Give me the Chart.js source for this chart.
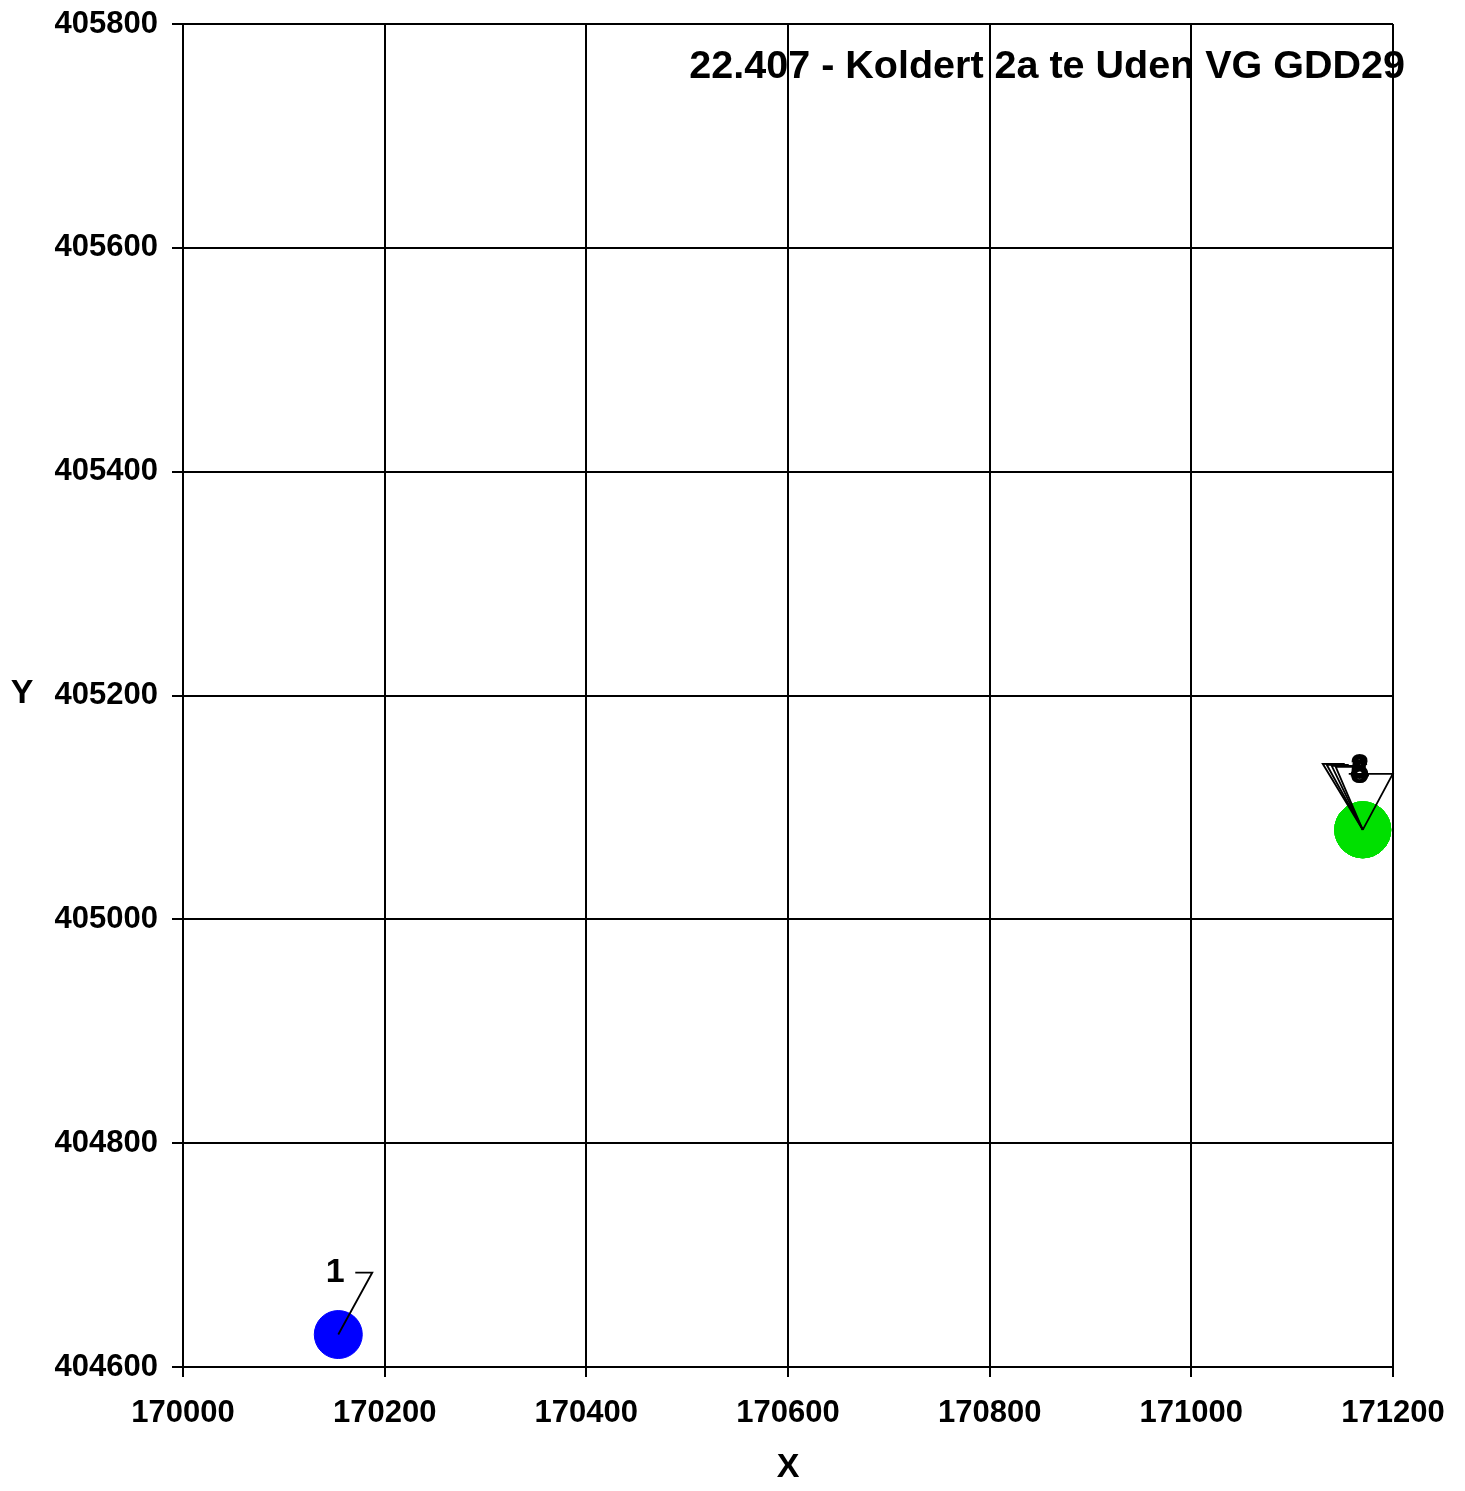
<!DOCTYPE html>
<html>
<head>
<meta charset="utf-8">
<script src="https://cdn.jsdelivr.net/npm/chart.js@4.4.1/dist/chart.umd.min.js"></script>
<style>
  html, body { margin: 0; padding: 0; background: #fff; }
  #wrap { width: 1465px; height: 1491px; position: relative; }
</style>
</head>
<body>
<div id="wrap"><canvas id="chart"></canvas></div>
<script>
// Gegevens
const titleText = '22.407 - Koldert 2a te Uden VG GDD29';
const blueX = [170154];
const blueY = [404629];
const blueLabels = ['1'];
const greenX = [171170, 171170, 171170, 171170, 171170];
const greenY = [405080, 405080, 405080, 405080, 405080];
const greenLabels = ['2', '3', '4', '5', '6'];
const xTicks = [170000, 170200, 170400, 170600, 170800, 171000, 171200];
const yTicks = [404600, 404800, 405000, 405200, 405400, 405600, 405800];

const FONT = "'Liberation Sans', Arial, sans-serif";

// Leader-lijnen: verschuiving (px) van het knikpunt t.o.v. het punt, lengte horizontaal stuk
const leaders = {
  blue: [{ dx: 34, dy: -62, h: -17, tx: -3, ty: -62 }],
  green: [
    { dx: -40, dy: -66, h: 22, tx: -3, ty: -62 },
    { dx: -36, dy: -65, h: 22, tx: -3, ty: -60 },
    { dx: -31, dy: -64, h: 22, tx: -3, ty: -58 },
    { dx: -27, dy: -63, h: 22, tx: -3, ty: -56 },
    { dx: 30, dy: -56, h: -44, tx: -3, ty: -56 }
  ]
};

function toPoints(xs, ys) {
  return xs.map((x, i) => ({ x: x, y: ys[i] }));
}

const labelPlugin = {
  id: 'labels',
  afterDatasetsDraw(chart) {
    const ctx = chart.ctx;
    ctx.save();
    const sets = [
      { meta: chart.getDatasetMeta(0), labels: blueLabels, lead: leaders.blue },
      { meta: chart.getDatasetMeta(1), labels: greenLabels, lead: leaders.green }
    ];
    // eerst lijnen
    ctx.strokeStyle = '#000';
    ctx.lineWidth = 1.8;
    sets.forEach(s => {
      s.meta.data.forEach((el, i) => {
        const l = s.lead[i];
        if (!l) return;
        ctx.beginPath();
        ctx.moveTo(el.x, el.y);
        ctx.lineTo(el.x + l.dx, el.y + l.dy);
        ctx.lineTo(el.x + l.dx + l.h, el.y + l.dy);
        ctx.stroke();
      });
    });
    // dan tekst
    ctx.fillStyle = '#000';
    ctx.font = 'bold 34px ' + FONT;
    ctx.textAlign = 'center';
    ctx.textBaseline = 'middle';
    sets.forEach(s => {
      s.meta.data.forEach((el, i) => {
        const l = s.lead[i];
        if (!l) return;
        ctx.fillText(s.labels[i], el.x + l.tx, el.y + l.ty);
      });
    });
    ctx.restore();
  },
  afterDraw(chart) {
    const ctx = chart.ctx;
    const a = chart.chartArea;
    ctx.save();
    ctx.fillStyle = '#000';
    ctx.font = 'bold 39.5px ' + FONT;
    ctx.textBaseline = 'middle';
    ctx.textAlign = 'right';
    ctx.fillText(titleText, a.right + 12, 67);
    ctx.font = 'bold 34px ' + FONT;
    ctx.textAlign = 'center';
    ctx.fillText('X', (a.left + a.right) / 2, 1468);
    ctx.fillText('Y', 22, 694);
    ctx.restore();
  }
};

new Chart(document.getElementById('chart'), {
  type: 'scatter',
  data: {
    datasets: [
      {
        label: 'blauw',
        data: toPoints(blueX, blueY),
        backgroundColor: '#0000ff',
        borderColor: '#0000ff',
        pointRadius: 24,
        pointHoverRadius: 24
      },
      {
        label: 'groen',
        data: toPoints(greenX, greenY),
        backgroundColor: '#00e000',
        borderColor: '#00e000',
        pointRadius: 28,
        pointHoverRadius: 28
      }
    ]
  },
  options: {
    responsive: true,
    maintainAspectRatio: false,
    animation: false,
    events: [],
    layout: { autoPadding: false, padding: { left: 0, top: 24, right: 72, bottom: 0 } },
    plugins: {
      legend: { display: false },
      tooltip: { enabled: false }
    },
    scales: {
      x: {
        type: 'linear',
        min: 170000,
        max: 171200,
        afterBuildTicks: s => { s.ticks = xTicks.map(v => ({ value: v })); },
        afterFit: s => { s.height = 124; },
        grid: { color: '#000', lineWidth: 2, tickLength: 10, drawOnChartArea: true },
        border: { color: '#000', width: 2 },
        ticks: {
          color: '#000',
          padding: 18,
          maxRotation: 0,
          font: { family: FONT, size: 31, weight: 'bold' },
          callback: v => String(v)
        }
      },
      y: {
        type: 'linear',
        min: 404600,
        max: 405800,
        afterBuildTicks: s => { s.ticks = yTicks.map(v => ({ value: v })); },
        afterFit: s => { s.width = 183; s.paddingTop = 0; s.paddingBottom = 0; },
        grid: { color: '#000', lineWidth: 2, tickLength: 11 },
        border: { color: '#000', width: 2 },
        ticks: {
          color: '#000',
          padding: 14,
          font: { family: FONT, size: 31, weight: 'bold' },
          callback: v => String(v)
        }
      }
    }
  },
  plugins: [labelPlugin]
});
</script>
</body>
</html>
